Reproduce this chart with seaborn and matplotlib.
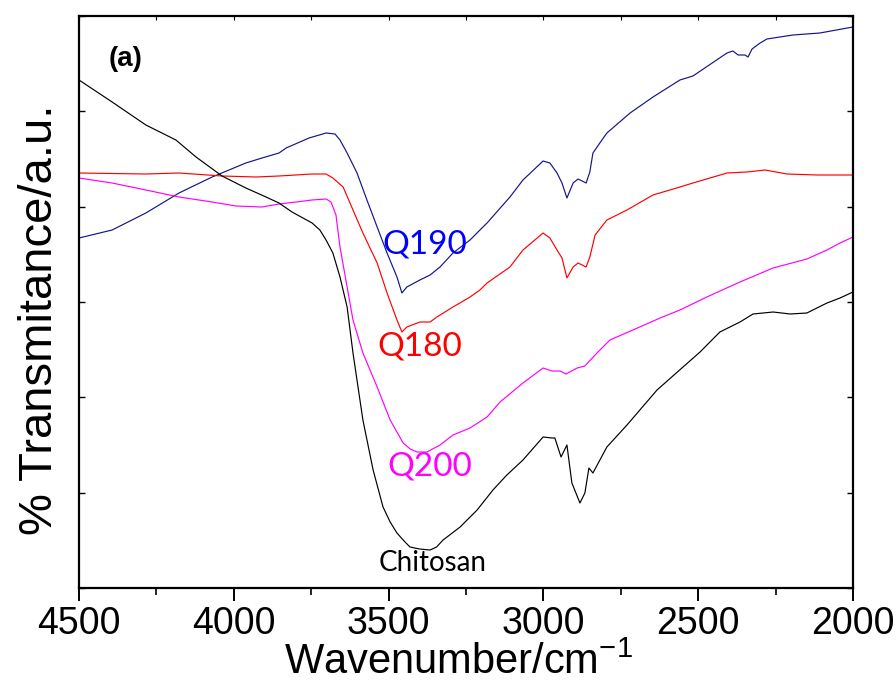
import matplotlib
matplotlib.use("Agg")
import matplotlib.pyplot as plt
import seaborn as sns
import numpy as np
import pandas as pd
from matplotlib.ticker import MultipleLocator, NullFormatter

# ---------------- data (wavenumber in cm-1, transmittance in a.u.) ----------------
wn_chitosan = [4500, 4393, 4284, 4187, 4122, 4038, 3961, 3896, 3854, 3812, 3747, 3722, 3702,
               3680, 3657, 3634, 3615, 3583, 3550, 3518, 3495, 3473, 3450, 3431, 3400, 3366,
               3345, 3324, 3269, 3214, 3163, 3118, 3066, 3001, 2972, 2963, 2943, 2924, 2908,
               2882, 2866, 2853, 2840, 2795, 2730, 2633, 2549, 2494, 2430, 2365, 2323, 2258,
               2203, 2149, 2084, 2042, 2000]
t_chitosan = [508, 486, 463, 448, 431, 412, 400, 391, 385, 376, 365, 358, 348,
              335, 311, 281, 235, 168, 118, 81, 66, 55, 47, 41, 39, 38,
              41, 48, 61, 78, 98, 113, 128, 151, 150, 150, 131, 143, 105,
              85, 95, 120, 115, 141, 163, 198, 221, 236, 256, 266, 274, 276,
              274, 275, 285, 290, 296]

wn_q180 = [4500, 4284, 4177, 4038, 3928, 3854, 3747, 3702, 3680, 3647, 3615, 3583, 3537,
           3505, 3473, 3457, 3441, 3399, 3366, 3344, 3292, 3237, 3205, 3182, 3108, 3066,
           3001, 2979, 2956, 2940, 2924, 2904, 2888, 2862, 2850, 2833, 2795, 2730, 2646,
           2559, 2517, 2407, 2342, 2284, 2213, 2116, 2000]
t_q180 = [415, 414, 415, 412, 411, 412, 414, 414, 410, 401, 378, 355, 325,
          295, 268, 256, 261, 266, 266, 271, 281, 291, 298, 305, 321, 338,
          355, 350, 338, 330, 310, 321, 325, 321, 331, 353, 368, 378, 393,
          401, 405, 415, 416, 418, 414, 413, 413]

wn_q200 = [4500, 4393, 4284, 4177, 4070, 3993, 3909, 3854, 3799, 3747, 3702, 3686, 3670,
           3657, 3634, 3615, 3583, 3537, 3495, 3453, 3430, 3408, 3376, 3334, 3292, 3237,
           3182, 3140, 3066, 3001, 2972, 2946, 2927, 2891, 2866, 2827, 2785, 2711, 2623,
           2559, 2472, 2365, 2258, 2149, 2084, 2042, 2000]
t_q200 = [410, 405, 398, 391, 386, 382, 381, 384, 386, 388, 389, 386, 373,
          341, 301, 268, 235, 201, 168, 145, 139, 136, 136, 143, 153, 160,
          171, 186, 205, 220, 217, 217, 214, 220, 222, 235, 248, 258, 270,
          278, 291, 306, 320, 329, 338, 345, 351]

wn_q190 = [4500, 4393, 4284, 4177, 4070, 3961, 3909, 3854, 3831, 3757, 3702, 3673, 3657,
           3634, 3602, 3570, 3537, 3505, 3473, 3457, 3441, 3399, 3366, 3334, 3292, 3237,
           3205, 3182, 3108, 3066, 3001, 2979, 2956, 2940, 2924, 2904, 2888, 2862, 2850,
           2840, 2811, 2795, 2720, 2646, 2559, 2517, 2407, 2388, 2371, 2349, 2339, 2326,
           2300, 2278, 2194, 2107, 2000]
t_q190 = [350, 358, 375, 395, 411, 425, 430, 435, 440, 450, 455, 454, 448,
          435, 415, 388, 361, 335, 311, 295, 301, 308, 313, 321, 335, 348,
          358, 365, 391, 408, 427, 425, 415, 405, 390, 405, 409, 405, 416,
          435, 448, 455, 475, 491, 508, 512, 535, 537, 533, 533, 531, 539,
          545, 549, 553, 555, 561]

series_names = ["Q190", "Q180", "Q200", "Chitosan"]
line_colors = ["#14148c", "#ff0000", "#ff00ff", "#000000"]
label_colors = ["#0000ff", "#ff0000", "#ff00ff", "#000000"]
label_wn = [3382, 3399, 3366, 3357]
label_t = [343, 241, 121, 25]

x_ticks = [4500, 4000, 3500, 3000, 2500, 2000]

# ---------------- style ----------------
sns.set_theme(style="ticks")
plt.rcParams["font.family"] = ["Liberation Sans", "DejaVu Sans"]
plt.rcParams["mathtext.fontset"] = "custom"
plt.rcParams["mathtext.rm"] = "Liberation Sans"
plt.rcParams["mathtext.it"] = "Liberation Sans"
plt.rcParams["text.color"] = "black"
plt.rcParams["axes.labelcolor"] = "black"
plt.rcParams["xtick.color"] = "black"
plt.rcParams["ytick.color"] = "black"

fig = plt.figure(figsize=(8.96, 6.84), dpi=100)
fig.patch.set_facecolor("white")
ax = fig.add_axes([79 / 896, 1 - 588 / 684, (853 - 79) / 896, (588 - 16) / 684])
ax.set_facecolor("white")

data = [(wn_q190, t_q190), (wn_q180, t_q180), (wn_q200, t_q200), (wn_chitosan, t_chitosan)]
for (wn, t), name, col in zip(data, series_names, line_colors):
    df = pd.DataFrame({"wn": wn, "t": t})
    sns.lineplot(data=df, x="wn", y="t", color=col, lw=0.85, estimator=None,
                 sort=False, ax=ax)

for name, col, xw, yt in zip(series_names, label_colors, label_wn, label_t):
    fs = 20 if name == "Chitosan" else 24
    ax.text(xw, yt, name, color=col, fontsize=fs, family=["Lato", "DejaVu Sans"],
            ha="center", va="center")

ax.text(4351, 529, "(a)", fontsize=20, fontweight="bold", ha="center", va="center")

ax.set_xlim(4500, 2000)
ax.set_ylim(0, 572)
ax.set_xticks(x_ticks)
ax.xaxis.set_minor_locator(MultipleLocator(250))
ax.set_yticks(np.linspace(0, 572, 7))
ax.yaxis.set_major_formatter(NullFormatter())

for s in ax.spines.values():
    s.set_visible(True)
    s.set_linewidth(1.6)
    s.set_color("black")

ax.tick_params(axis="x", which="major", direction="out", length=9, width=1.4,
               labelsize=27, pad=4, top=False)
ax.tick_params(axis="x", which="minor", direction="out", length=5, width=1.2, top=False)
ax.tick_params(axis="y", which="major", direction="in", length=4, width=1.0,
               left=True, right=True, labelleft=False)

top = ax.secondary_xaxis("top")
top.set_xticks(x_ticks)
top.xaxis.set_minor_locator(MultipleLocator(250))
top.tick_params(axis="x", which="both", direction="in", length=3, width=0.8,
                labeltop=False)
top.xaxis.set_major_formatter(NullFormatter())

ax.set_xlabel("Wavenumber/cm$^{-1}$", fontsize=30)
ax.xaxis.label.set_va("baseline")
ax.xaxis.set_label_coords(0.49, (588 - 674) / 572)
ax.set_ylabel("% Transmitance/a.u.", fontsize=34)
ax.yaxis.set_label_coords(-0.022, 0.4685)

fig.savefig("out.png", dpi=100, facecolor="white")
